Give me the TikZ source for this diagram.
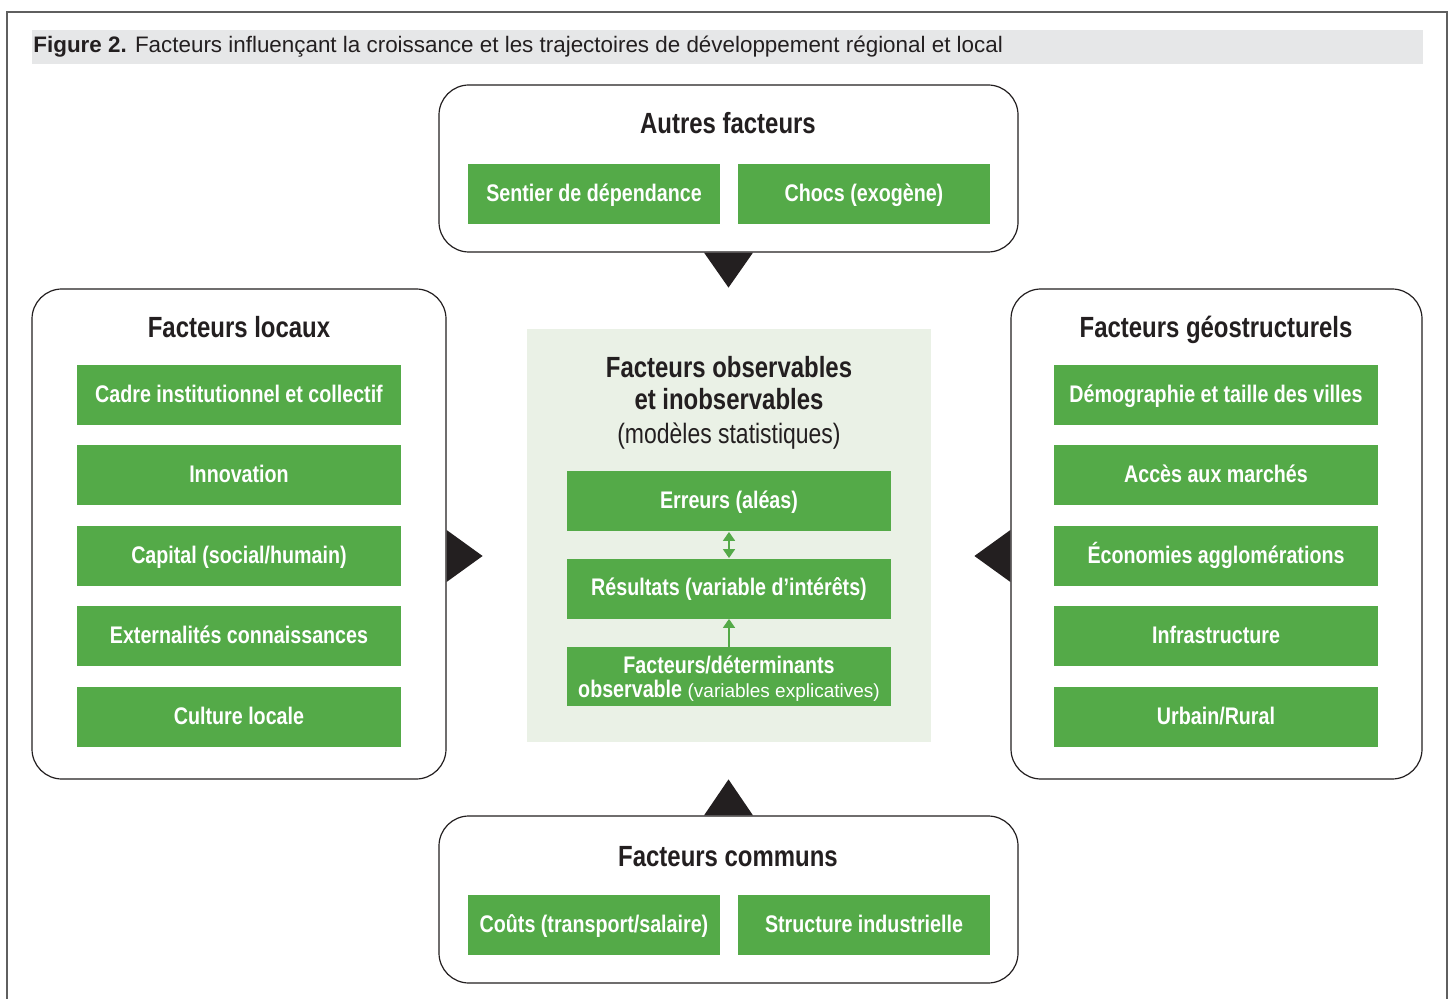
\documentclass[tikz,border=0pt]{standalone}
\usepackage{fontspec}
\setmainfont{Liberation Sans}
\newfontfamily\narrowfont[FakeStretch=0.82]{Liberation Sans}
\usepackage{tikz}
\usetikzlibrary{arrows.meta,positioning}
\definecolor{leafgreen}{RGB}{84,170,72}
\definecolor{palegreen}{RGB}{234,241,230}
\definecolor{bandgray}{RGB}{230,231,232}
\definecolor{framegray}{RGB}{95,95,95}
\definecolor{inkblack}{RGB}{35,31,32}
\tikzset{
	x=0.5pt,y=-0.5pt,
	group/.style ={draw=inkblack, line width=0.6pt, rounded corners=15pt, fill=white, inner sep=0pt},
	factor/.style ={fill=leafgreen, text=white, inner sep=0pt, align=center, minimum width=162pt, minimum height=30pt,
		text height=9.6pt, text depth=2.4pt, font=\narrowfont\bfseries\fontsize{12}{13}\selectfont},
	pair/.style ={factor, minimum width=126pt},
	heading/.style ={text=inkblack, inner sep=0pt, align=center, font=\narrowfont\bfseries\fontsize{14.6}{16}\selectfont},
	onehead/.style ={heading, text height=10.5pt, text depth=3pt},
	wedge/.style ={fill=inkblack, draw=none},
	link/.style ={draw=leafgreen, line width=0.8pt}
}

\begin{document}
\begin{tikzpicture}
    \useasboundingbox (0,0) rectangle (1450,999);
    \draw[framegray, line width=1pt] (7,1005) -- (7,12) -- (1447,12) -- (1447,1005);
    \fill[bandgray] (32,30) rectangle (1423,64);
    \node[anchor=west, inner sep=0pt, text=inkblack, font=\fontsize{11.2}{12}\selectfont] (title) at (33,47)
        {\textbf{Figure 2.} Facteurs influençant la croissance et les trajectoires de développement régional et local};

    % groupes
    \node[group, minimum width=289.5pt, minimum height=83.5pt] (autres) at (728.5,168.5) {};
    \node[group, minimum width=289.5pt, minimum height=83.5pt] (communs) at (728.5,899.5) {};
    \node[group, minimum width=207pt, minimum height=245pt] (locaux) at (239,534) {};
    \node[group, minimum width=205.5pt, minimum height=245pt] (geo) at (1216.5,534) {};
    \node[fill=palegreen, minimum width=202pt, minimum height=206.5pt, inner sep=0pt] (centre) at (729,535.5) {};

    \node[onehead] (autreshd) at (728,126.5) {Autres facteurs};
    \node[pair] (sentier) at (594,194) {Sentier de dépendance};
    \node[pair] (chocs) at (864,194) {Chocs (exogène)};

    \node[onehead] (communshd) at (728,858.5) {Facteurs communs};
    \node[pair] (couts) at (594,925) {Coûts (transport/salaire)};
    \node[pair] (structure) at (864,925) {Structure industrielle};

    \node[onehead] (locauxhd) at (239,330.5) {Facteurs locaux};
    \node[factor] (cadre) at (239,395) {Cadre institutionnel et collectif};
    \node[factor] (innov) at (239,475) {Innovation};
    \node[factor] (capital) at (239,556) {Capital (social/humain)};
    \node[factor] (extern) at (239,636) {Externalités connaissances};
    \node[factor] (culture) at (239,717) {Culture locale};

    \node[onehead] (geohd) at (1216,330.5) {Facteurs géostructurels};
    \node[factor] (demo) at (1216,395) {Démographie et taille des villes};
    \node[factor] (acces) at (1216,475) {Accès aux marchés};
    \node[factor] (econ) at (1216,556) {Économies agglomérations};
    \node[factor] (infra) at (1216,636) {Infrastructure};
    \node[factor] (urbain) at (1216,717) {Urbain/Rural};

    \node[heading] (centrehd) at (729,403)
        {Facteurs observables\\et inobservables\\[1pt]{\narrowfont\mdseries\fontsize{14}{15}\selectfont(modèles statistiques)}};
    \node[factor] (erreurs) at (729,501.5) {Erreurs (aléas)};
    \node[factor] (resultats) at (729,588.5) {Résultats (variable d’intérêts)};
    \node[factor, minimum height=29.5pt, text height={}, text depth={}, font=\narrowfont\bfseries\fontsize{12}{12}\selectfont] (determ) at (729,676.5)
        {\rule{0pt}{10.5pt}Facteurs/déterminants\\observable {\normalfont\fontsize{9.5}{12}\selectfont(variables explicatives)}};

    \draw[link, {Triangle[width=6pt,length=4.5pt]}-{Triangle[width=6pt,length=4.5pt]}] (erreurs) -- (resultats);
    \draw[link, -{Triangle[width=6pt,length=4.5pt]}] (determ) -- (resultats);

    % triangles
    \fill[wedge] ([xshift=-12.25pt]autres.south) -- ([xshift=12.25pt]autres.south) -- ([yshift=-17.5pt]autres.south) -- cycle;
    \fill[wedge] ([xshift=-12.25pt]communs.north) -- ([xshift=12.25pt]communs.north) -- ([yshift=18pt]communs.north) -- cycle;
    \fill[wedge] ([yshift=13pt]locaux.east |- capital) -- ([yshift=-13pt]locaux.east |- capital) -- ([xshift=18pt]locaux.east |- capital) -- cycle;
    \fill[wedge] ([yshift=13pt]geo.west |- econ) -- ([yshift=-13pt]geo.west |- econ) -- ([xshift=-18pt]geo.west |- econ) -- cycle;
\end{tikzpicture}
\end{document}
